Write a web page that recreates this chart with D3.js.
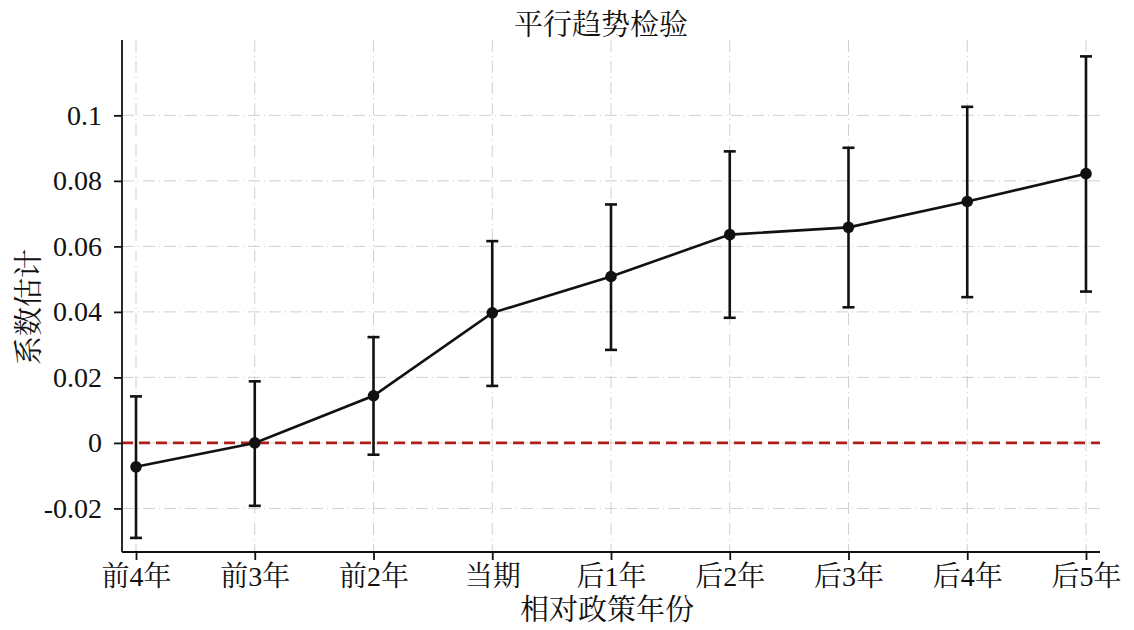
<!DOCTYPE html>
<html>
<head>
<meta charset="utf-8">
<script src="https://cdn.jsdelivr.net/npm/d3@7"></script>
<style>
  body { margin: 0; background: #fff; }
  text { font-family: "Liberation Serif", "Noto Serif CJK SC", "Noto Sans CJK SC", serif; fill: #111; }
</style>
</head>
<body>
<div id="chart"></div>
<script>
// data
var periods = ["前4年", "前3年", "前2年", "当期", "后1年", "后2年", "后3年", "后4年", "后5年"];
var coef    = [-0.0073, 0.0000, 0.0144, 0.0397, 0.0508, 0.0636, 0.0658, 0.0737, 0.0822];
var upper   = [0.0142, 0.0188, 0.0323, 0.0616, 0.0728, 0.0890, 0.0901, 0.1026, 0.1180];
var lower   = [-0.0290, -0.0192, -0.0036, 0.0174, 0.0284, 0.0382, 0.0414, 0.0445, 0.0462];
var yTicks  = [-0.02, 0, 0.02, 0.04, 0.06, 0.08, 0.1];

var width = 1134, height = 630;
var mLeft = 122, mRight = 1100, mTop = 40, mBottom = 552;

var svg = d3.select("#chart").append("svg")
    .attr("width", width)
    .attr("height", height);

var x = d3.scalePoint()
    .domain(periods)
    .range([mLeft, mRight])
    .padding(0.118);

var y = d3.scaleLinear()
    .domain([-0.0333, 0.123])
    .range([mBottom, mTop]);

// grid
var grid = svg.append("g").attr("class", "grid");
grid.selectAll("line.v")
    .data(periods)
    .enter().append("line")
    .attr("x1", function(d) { return x(d); })
    .attr("x2", function(d) { return x(d); })
    .attr("y1", mTop).attr("y2", mBottom)
    .style("stroke", "#cfcfcf")
    .style("stroke-width", 1)
    .style("stroke-dasharray", "12,4,1,4");
grid.selectAll("line.h")
    .data(yTicks)
    .enter().append("line")
    .attr("x1", mLeft).attr("x2", mRight)
    .attr("y1", function(d) { return y(d); })
    .attr("y2", function(d) { return y(d); })
    .style("stroke", "#cfcfcf")
    .style("stroke-width", 1)
    .style("stroke-dasharray", "12,4,1,4");

// zero reference line
svg.append("line")
    .attr("x1", mLeft).attr("x2", mRight)
    .attr("y1", y(0)).attr("y2", y(0))
    .style("stroke", "#ad1f1b")
    .style("stroke-width", 2.6)
    .style("stroke-dasharray", "11,6");

// axes
var fmt = function(d) { return d === 0 ? "0" : String(+d.toFixed(2)); };

var yAxis = svg.append("g")
    .attr("transform", "translate(" + mLeft + ",0)")
    .call(d3.axisLeft(y).tickValues(yTicks).tickFormat(fmt).tickSize(8).tickPadding(12).tickSizeOuter(0));
var xAxis = svg.append("g")
    .attr("transform", "translate(0," + mBottom + ")")
    .call(d3.axisBottom(x).tickSize(8).tickPadding(6).tickSizeOuter(0));

[yAxis, xAxis].forEach(function(g) {
  g.select(".domain").style("stroke", "#111").style("stroke-width", 1.8);
  g.selectAll(".tick line").style("stroke", "#111").style("stroke-width", 1.8);
  g.selectAll(".tick text").style("font-size", "28px").style("fill", "#111")
    .style("font-family", '"Liberation Serif", "Noto Serif CJK SC", "Noto Sans CJK SC", serif');
});
yAxis.select(".domain").attr("d", "M0," + mBottom + "V" + mTop);
xAxis.select(".domain").attr("d", "M" + mLeft + ",0H" + mRight);

// error bars
var idx = d3.range(periods.length);
var eb = svg.append("g");
eb.selectAll("line.bar")
    .data(idx).enter().append("line")
    .attr("x1", function(i) { return x(periods[i]); })
    .attr("x2", function(i) { return x(periods[i]); })
    .attr("y1", function(i) { return y(upper[i]); })
    .attr("y2", function(i) { return y(lower[i]); })
    .style("stroke", "#111").style("stroke-width", 2.6);
[upper, lower].forEach(function(arr) {
  eb.selectAll(null)
      .data(idx).enter().append("line")
      .attr("x1", function(i) { return x(periods[i]) - 6; })
      .attr("x2", function(i) { return x(periods[i]) + 6; })
      .attr("y1", function(i) { return y(arr[i]); })
      .attr("y2", function(i) { return y(arr[i]); })
      .style("stroke", "#111").style("stroke-width", 2.6);
});

// line + markers
var line = d3.line()
    .x(function(i) { return x(periods[i]); })
    .y(function(i) { return y(coef[i]); });
svg.append("path")
    .datum(idx)
    .attr("d", line)
    .style("fill", "none")
    .style("stroke", "#111")
    .style("stroke-width", 2.6);
svg.selectAll("circle")
    .data(idx).enter().append("circle")
    .attr("cx", function(i) { return x(periods[i]); })
    .attr("cy", function(i) { return y(coef[i]); })
    .attr("r", 5.8)
    .style("fill", "#111");

// labels
svg.append("text")
    .attr("x", 601).attr("y", 35)
    .attr("text-anchor", "middle")
    .style("font-size", "29px")
    .text("平行趋势检验");
svg.append("text")
    .attr("x", 607).attr("y", 620)
    .attr("text-anchor", "middle")
    .style("font-size", "29px")
    .text("相对政策年份");
svg.append("text")
    .attr("transform", "translate(39,307) rotate(-90)")
    .attr("text-anchor", "middle")
    .style("font-size", "29px")
    .text("系数估计");
</script>
</body>
</html>
